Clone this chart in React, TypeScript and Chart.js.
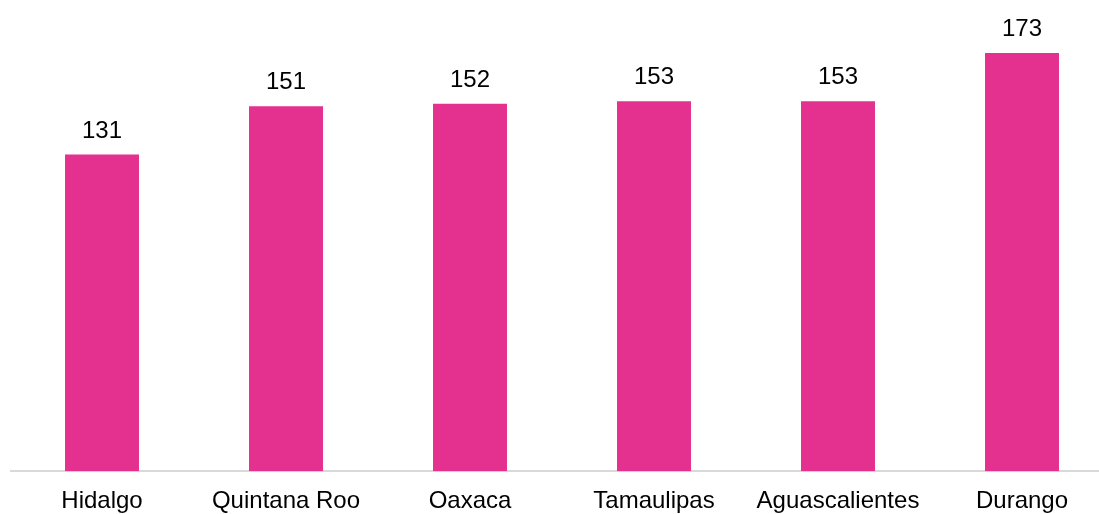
import React, { useEffect, useRef } from "react";
import { Chart, registerables } from "chart.js";

Chart.register(...registerables);

const categories = ["Hidalgo", "Quintana Roo", "Oaxaca", "Tamaulipas", "Aguascalientes", "Durango"];
const values = [131, 151, 152, 153, 153, 173];

const valueLabels = {
  id: "valueLabels",
  afterDatasetsDraw(chart: any) {
    const ctx = chart.ctx;
    const meta = chart.getDatasetMeta(0);
    ctx.save();
    ctx.font = "24px 'Liberation Sans', Arial, sans-serif";
    ctx.fillStyle = "#000000";
    ctx.textAlign = "center";
    ctx.textBaseline = "alphabetic";
    meta.data.forEach((bar: any, i: number) => {
      ctx.fillText(String(values[i]), bar.x, bar.y - 17);
    });
    ctx.restore();
  },
};

export default function App() {
  const ref = useRef<HTMLCanvasElement>(null);
  useEffect(() => {
    const chart = new Chart(ref.current!, {
      type: "bar",
      data: {
        labels: categories,
        datasets: [
          {
            data: values,
            backgroundColor: "#E4308F",
            barPercentage: 0.402,
            categoryPercentage: 1,
          },
        ],
      },
      options: {
        animation: false,
        responsive: false,
        maintainAspectRatio: false,
        layout: { padding: { top: 1, bottom: 0, left: 0, right: 0 } },
        plugins: { legend: { display: false }, tooltip: { enabled: false } },
        scales: {
          x: {
            grid: { display: false, drawTicks: false },
            border: { display: true, color: "#D9D9D9", width: 2 },
            ticks: {
              color: "#000000",
              font: { family: "'Liberation Sans', Arial, sans-serif", size: 24 },
              padding: 16,
              maxRotation: 0,
              autoSkip: false,
            },
          },
          y: {
            display: false,
            min: 0,
            max: 194.5,
          },
        },
      },
      plugins: [valueLabels],
    });
    return () => chart.destroy();
  }, []);
  return (
    <div style={{ position: "absolute", left: 0, top: 0, width: 1099, height: 514, overflow: "hidden", background: "#fff" }}>
      <canvas ref={ref} width={1104} height={532} style={{ position: "absolute", left: 10, top: 0, width: 1104, height: 532 }} />
    </div>
  );
}
